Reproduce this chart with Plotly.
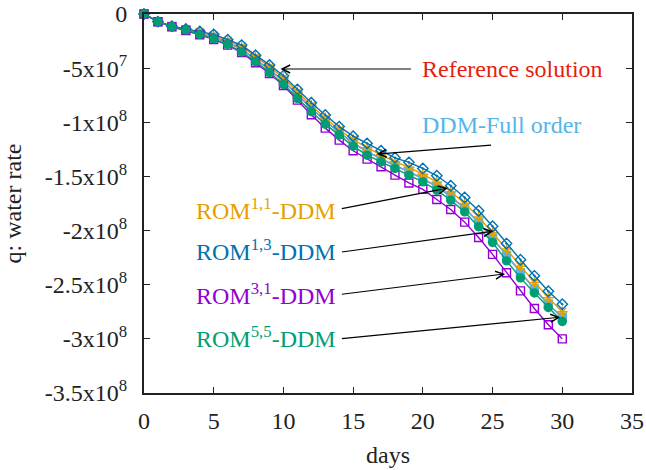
import plotly.graph_objects as go

# Simulation days
days = list(range(31))

# Water rate q (units of 1e7) for each model
rom13 = [0, -0.70, -1.12, -1.39, -1.62, -1.88, -2.37, -2.87, -3.80, -4.70, -5.70,
         -6.96, -8.20, -9.33, -10.40, -11.28, -11.95, -12.63, -13.28, -13.70, -14.26,
         -14.94, -15.86, -16.94, -18.17, -19.60, -21.20, -22.70, -24.18, -25.60, -26.80]
rom11 = [0, -0.70, -1.13, -1.42, -1.68, -1.98, -2.48, -3.00, -3.95, -4.88, -5.90,
         -7.20, -8.45, -9.60, -10.70, -11.60, -12.35, -13.00, -13.65, -14.15, -14.80,
         -15.50, -16.40, -17.50, -18.75, -20.20, -21.70, -23.30, -24.80, -26.20, -27.50]
ddm_full = [0, -0.71, -1.15, -1.46, -1.78, -2.15, -2.65, -3.25, -4.20, -5.15, -6.20,
            -7.45, -8.70, -9.85, -10.95, -11.90, -12.70, -13.35, -14.00, -14.55, -15.20,
            -15.95, -16.85, -17.95, -19.25, -20.70, -22.30, -23.90, -25.40, -26.80, -28.00]
reference = [0, -0.71, -1.15, -1.46, -1.78, -2.15, -2.65, -3.25, -4.20, -5.15, -6.20,
             -7.45, -8.70, -9.85, -10.95, -11.90, -12.70, -13.35, -14.00, -14.55, -15.20,
             -15.95, -16.85, -17.95, -19.25, -20.70, -22.30, -23.90, -25.40, -26.80, -28.00]
rom55 = [0, -0.71, -1.16, -1.48, -1.88, -2.30, -2.80, -3.50, -4.40, -5.40, -6.50,
         -7.80, -9.03, -10.17, -11.18, -12.20, -13.03, -13.65, -14.26, -14.88, -15.50,
         -16.27, -17.20, -18.27, -19.65, -21.10, -22.80, -24.37, -25.76, -27.10, -28.40]
rom31 = [0, -0.72, -1.18, -1.52, -1.92, -2.35, -2.87, -3.57, -4.50, -5.50, -6.60,
         -7.95, -9.30, -10.54, -11.65, -12.63, -13.40, -14.10, -14.88, -15.60, -16.20,
         -17.13, -18.05, -19.22, -20.64, -22.20, -23.90, -25.57, -27.20, -28.70, -30.00]

y_tick_vals = [0, -5e7, -1e8, -1.5e8, -2e8, -2.5e8, -3e8, -3.5e8]
y_tick_text = ["0", "-5x10<sup>7</sup>", "-1x10<sup>8</sup>", "-1.5x10<sup>8</sup>",
               "-2x10<sup>8</sup>", "-2.5x10<sup>8</sup>", "-3x10<sup>8</sup>",
               "-3.5x10<sup>8</sup>"]

FONT = "Liberation Serif"
FS = 24
RED = "#E51E10"
LIGHTBLUE = "#56B4E9"
ORANGE = "#E69F00"
BLUE = "#0072B2"
PURPLE = "#9400D3"
GREEN = "#009E73"


def scaled(vals):
    return [v * 1e7 for v in vals]


fig = go.Figure()

series = [
    ("Reference solution", reference, RED, "cross-thin-open", 5),
    ("DDM-Full order", ddm_full, LIGHTBLUE, "square", 8),
    ("ROM1,1-DDM", rom11, ORANGE, "asterisk-open", 9),
    ("ROM1,3-DDM", rom13, BLUE, "diamond-open-dot", 8),
    ("ROM3,1-DDM", rom31, PURPLE, "square-open", 8),
    ("ROM5,5-DDM", rom55, GREEN, "circle", 8),
]
for name, vals, color, symbol, size in series:
    fig.add_trace(go.Scatter(
        x=days, y=scaled(vals), name=name, mode="lines+markers",
        line=dict(color=color, width=1.4),
        marker=dict(symbol=symbol, size=size, color=color,
                    line=dict(color=color, width=1.4)),
        cliponaxis=False, showlegend=False,
    ))

# Arrows: (tail_x, tail_y, head_x, head_y)
arrows = [
    (19.25, -0.508e8, 9.79, -0.508e8),
    (25.0, -1.21e8, 16.7, -1.294e8),
    (14.08, -1.80e8, 21.8, -1.608e8),
    (14.08, -2.20e8, 25.05, -2.006e8),
    (14.08, -2.59e8, 25.9, -2.40e8),
    (14.08, -3.00e8, 29.85, -2.80e8),
]
for tx, ty, hx, hy in arrows:
    fig.add_annotation(
        x=hx, y=hy, ax=tx, ay=ty, xref="x", yref="y", axref="x", ayref="y",
        text="", showarrow=True, arrowhead=5, arrowsize=1.3, arrowwidth=1.2,
        arrowcolor="black",
    )

labels = [
    ("Reference solution", 26.42, -0.508e8, RED, "center"),
    ("DDM-Full order", 25.63, -1.026e8, LIGHTBLUE, "center"),
    ("ROM<sup>1,1</sup>-DDM", 13.94, -1.80e8, ORANGE, "right"),
    ("ROM<sup>1,3</sup>-DDM", 13.94, -2.18e8, BLUE, "right"),
    ("ROM<sup>3,1</sup>-DDM", 13.94, -2.585e8, PURPLE, "right"),
    ("ROM<sup>5,5</sup>-DDM", 13.94, -2.98e8, GREEN, "right"),
]
for text, x, y, color, anchor in labels:
    fig.add_annotation(
        x=x, y=y, xref="x", yref="y", text=text, showarrow=False,
        xanchor=anchor, yanchor="middle",
        font=dict(family=FONT, size=FS, color=color),
    )

axis_common = dict(
    showgrid=False, zeroline=False, showline=True, linecolor="#222222",
    linewidth=2, mirror="ticks", ticks="inside", ticklen=6, tickwidth=1,
    tickcolor="#222222", tickfont=dict(family=FONT, size=FS, color="#222222"),
    automargin=False,
)

fig.update_layout(
    width=646, height=470,
    margin=dict(l=144, r=14, t=14, b=77),
    paper_bgcolor="white", plot_bgcolor="white",
    font=dict(family=FONT, size=FS, color="#222222"),
    xaxis=dict(range=[0, 35], tickvals=[0, 5, 10, 15, 20, 25, 30, 35],
               ticklabelstandoff=5,
               title=dict(text="days", font=dict(family=FONT, size=FS, color="#222222"),
                          standoff=13),
               **axis_common),
    yaxis=dict(range=[-3.5e8, 0], tickvals=y_tick_vals, ticktext=y_tick_text,
               ticklabelstandoff=10,
               title=dict(text="q: water rate", font=dict(family=FONT, size=FS, color="#222222"),
                          standoff=16),
               **axis_common),
)

fig.write_html("out.html")
